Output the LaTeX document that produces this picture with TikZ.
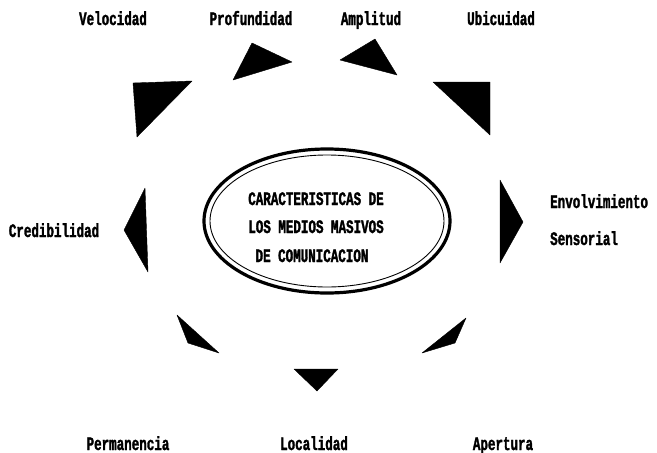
\documentclass[tikz,border=0pt]{standalone}
\usepackage{fontspec}
\newfontfamily\maquina[FakeStretch=0.66, FakeBold=1.6]{Liberation Mono}
\tikzset{
	etiqueta/.style = {font=\maquina\bfseries\fontsize{19}{19}\selectfont, inner sep=0pt, anchor=base},
	punta/.style = {fill=black, draw=black, line join=round}
}
\begin{document}
\begin{tikzpicture}[x=1pt, y=-1pt]
		\useasboundingbox (0,0) rectangle (657,453);
		% elipse central
		\draw[line width=3.2pt] (327,221) ellipse [x radius=123pt, y radius=72pt];
		\draw[line width=0.9pt] (327,221) ellipse [x radius=117pt, y radius=66pt];
		\node[etiqueta] (tit1) at (316,205) {CARACTERISTICAS DE};
		\node[etiqueta] (tit2) at (316,233) {LOS MEDIOS MASIVOS};
		\node[etiqueta] (tit3) at (312,262) {DE COMUNICACION};
		% caracteristicas
		\node[etiqueta] (vel) at (113,25) {Velocidad};
		\node[etiqueta] (pro) at (251,25) {Profundidad};
		\node[etiqueta] (amp) at (371,25) {Amplitud};
		\node[etiqueta] (ubi) at (501,25) {Ubicuidad};
		\node[etiqueta, anchor=base west] (env) at (550,208) {Envolvimiento};
		\node[etiqueta, anchor=base west] (sen) at (550,245) {Sensorial};
		\node[etiqueta] (cre) at (54,237) {Credibilidad};
		\node[etiqueta] (per) at (128,450) {Permanencia};
		\node[etiqueta] (loc) at (314,450) {Localidad};
		\node[etiqueta] (ape) at (503,450) {Apertura};
		% flechas
		\fill[punta] (133,83) -- (192,81) -- (137,137) -- cycle;
		\fill[punta] (252,43) -- (292,62) -- (233,80) -- cycle;
		\fill[punta] (375,39) -- (397,75) -- (340,60) -- cycle;
		\fill[punta] (433,82) -- (490,82) -- (490,135) -- cycle;
		\fill[punta] (145,188) -- (124,230) -- (148,272) -- cycle;
		\fill[punta] (500,180) -- (523,222) -- (500,263) -- cycle;
		\fill[punta] (177,315) -- (188,343) -- (219,353) -- cycle;
		\fill[punta] (294,369) -- (338,369) -- (317,391) -- cycle;
		\fill[punta] (466,318) -- (455,343) -- (422,353) -- cycle;
	\end{tikzpicture}
\end{document}
